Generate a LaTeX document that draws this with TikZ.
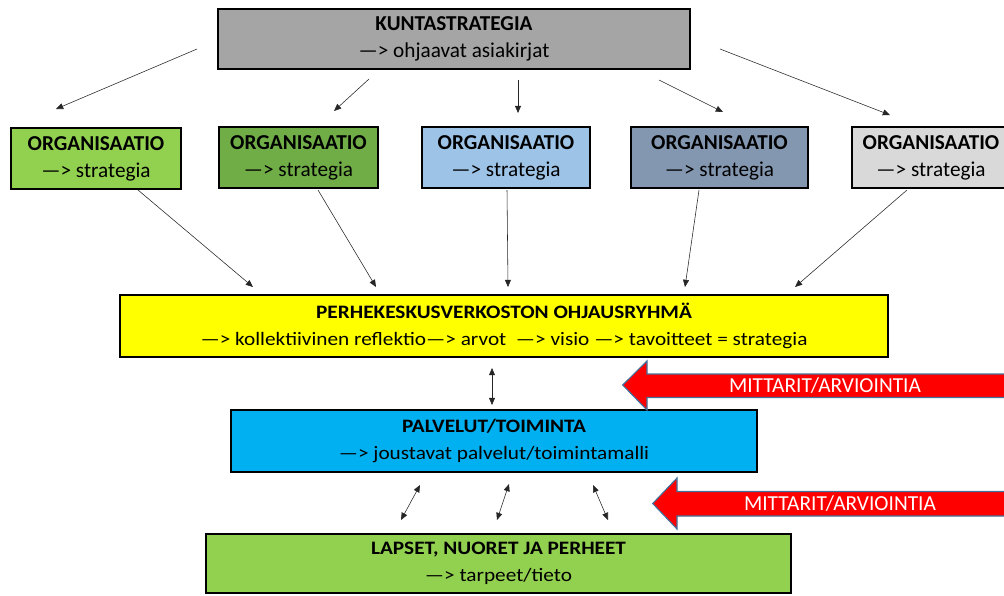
\documentclass[tikz,border=0pt]{standalone}
\usepackage{fontspec}
\setmainfont{Carlito}
\newfontfamily\widefont[FakeStretch=1.12]{Carlito}
\usetikzlibrary{arrows.meta, calc}
\definecolor{kuntagray}{HTML}{A5A5A5}
\definecolor{orgA}{HTML}{92D050}
\definecolor{orgB}{HTML}{70AD47}
\definecolor{orgC}{HTML}{9DC3E6}
\definecolor{orgD}{HTML}{8497B0}
\definecolor{orgE}{HTML}{D9D9D9}
\definecolor{ohjyellow}{HTML}{FFFF00}
\definecolor{palvblue}{HTML}{00B0F0}
\definecolor{mitred}{HTML}{FF0000}
\definecolor{mitedge}{HTML}{41719C}

\begin{document}
\begin{tikzpicture}[x=0.025cm, y=-0.025cm,
  box/.style={draw=black, line width=0.9pt, align=center, inner sep=2pt,
              minimum height=1.525cm,
              font=\fontsize{15.1}{19}\selectfont},
  wbox/.style={box, font=\widefont\fontsize{13.5}{19}\selectfont},
  arr/.style={-{Triangle[length=1.8mm, width=1.5mm]}, line width=0.4pt,
              color=black!85},
  darr/.style={{Triangle[length=1.8mm, width=1.5mm]}-{Triangle[length=1.8mm, width=1.5mm]},
               line width=0.4pt, color=black!85},
  mit/.style={fill=mitred, draw=mitedge, line width=0.8pt},
  mitlbl/.style={text=white, font=\fontsize{15.2}{17}\selectfont}
]
\useasboundingbox (0,0) rectangle (1004,595);

% Kuntastrategia
\node[box, fill=kuntagray, minimum width=11.8cm, minimum height=1.5cm] (kunta)
  at (454,39) {\textbf{KUNTASTRATEGIA}\\—> ohjaavat asiakirjat};

% Organisaatiot
\node[box, fill=orgA, minimum width=4.25cm] (org1) at (96,158.5)
  {\textbf{ORGANISAATIO}\\—> strategia};
\node[box, fill=orgB, minimum width=3.975cm] (org2) at (298.5,157.5)
  {\textbf{ORGANISAATIO}\\—> strategia};
\node[box, fill=orgC, minimum width=4.2cm] (org3) at (506,157.5)
  {\textbf{ORGANISAATIO}\\—> strategia};
\node[box, fill=orgD, minimum width=4.425cm] (org4) at (719.5,157.5)
  {\textbf{ORGANISAATIO}\\—> strategia};
\node[box, fill=orgE, minimum width=3.95cm] (org5) at (931,157.5)
  {\textbf{ORGANISAATIO}\\—> strategia};

% Ohjausryhma
\node[wbox, fill=ohjyellow, minimum width=19.2cm, minimum height=1.55cm] (ohj)
  at (504,326) {\textbf{PERHEKESKUSVERKOSTON OHJAUSRYHMÄ}\\
  —> kollektiivinen reflektio—> arvot \ —> visio —> tavoitteet = strategia};

% Palvelut
\node[wbox, fill=palvblue, minimum width=13.15cm, minimum height=1.55cm] (palv)
  at (494,441) {\textbf{PALVELUT/TOIMINTA}\\—> joustavat palvelut/toimintamalli};

% Lapset
\node[wbox, fill=orgA, minimum width=14.625cm, minimum height=1.475cm] (lapset)
  at (498.5,563.5) {\textbf{LAPSET, NUORET JA PERHEET}\\—> tarpeet/tieto};

% Arrow end points
\coordinate (k1) at (197,49);   \coordinate (o1) at (56,109);
\coordinate (k2) at (369,79);   \coordinate (o2) at (334,111);
\coordinate (k3) at (518,80);   \coordinate (o3) at (518,113);
\coordinate (k4) at (659,80);   \coordinate (o4) at (723,112);
\coordinate (k5) at (720,49);   \coordinate (o5) at (890,115);

\coordinate (s1) at (138,190);  \coordinate (y1) at (253,287);
\coordinate (s2) at (318,190);  \coordinate (y2) at (376,287);
\coordinate (s3) at (507,190);  \coordinate (y3) at (508,287);
\coordinate (s4) at (699,190);  \coordinate (y4) at (685,287);
\coordinate (s5) at (907,190);  \coordinate (y5) at (795,287);

\foreach \i in {1,...,5}{
  \draw[arr] (k\i) -- (o\i);
  \draw[arr] (s\i) -- (y\i);
}

% Double arrows
\coordinate (v1) at (492,368);  \coordinate (v2) at (492,405);
\draw[darr] (v1) -- (v2);
\coordinate (p1) at (420,485);  \coordinate (l1) at (401,520);
\coordinate (p2) at (509,484);  \coordinate (l2) at (497,520);
\coordinate (p3) at (593,485);  \coordinate (l3) at (608,520);
\foreach \i in {1,2,3}
  \draw[darr] (p\i) -- (l\i);

% Mittarit arrows
\draw[mit] (622.7,385) -- (647,361) -- (647,374) -- (1012,374)
  -- (1012,397.5) -- (647,397.5) -- (647,410) -- cycle;
\node[mitlbl] (mit1) at (825,385.5) {MITTARIT/ARVIOINTIA};

\draw[mit] (652.7,503.5) -- (677,478) -- (677,491.5) -- (1012,491.5)
  -- (1012,516) -- (677,516) -- (677,529) -- cycle;
\node[mitlbl] (mit2) at (840,503.5) {MITTARIT/ARVIOINTIA};

\end{tikzpicture}
\end{document}
